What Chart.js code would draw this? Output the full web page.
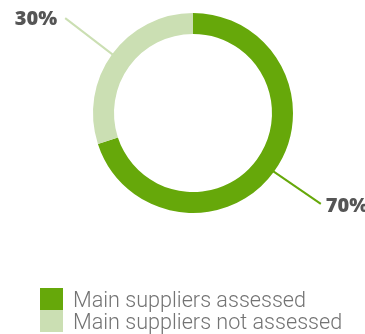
<!DOCTYPE html>
<html>
<head>
<meta charset="utf-8">
<script src="https://cdn.jsdelivr.net/npm/chart.js@4/dist/chart.umd.min.js"></script>
<style>
  body { margin: 0; background: #fff; }
  #wrap { position: relative; width: 365px; height: 334px; }
  #legend { position: absolute; left: 40px; top: 288px; font-family: Roboto, sans-serif; font-weight: 300; font-size: 21.6px; color: #737373; }
  .row { display: flex; align-items: center; height: 22px; }
  .box { width: 23px; height: 22px; margin-right: 10px; flex: none; }
  .row span { white-space: nowrap; }
</style>
</head>
<body>
<div id="wrap">
  <canvas id="chart" width="365" height="334"></canvas>
  <div id="legend"></div>
</div>
<script>
const categories = ["Main suppliers assessed", "Main suppliers not assessed"];
const values = [70, 30];
const valueLabels = ["70%", "30%"];
const colors = ["#66a80a", "#cbdfb3"];

// leader lines and percentage labels
const leaderLabels = {
  id: "leaderLabels",
  afterDraw(chart) {
    const ctx = chart.ctx;
    const arcs = chart.getDatasetMeta(0).data;
    arcs.forEach((arc, i) => {
      const p = arc.getProps(["x", "y", "startAngle", "endAngle", "outerRadius"], true);
      const mid = (p.startAngle + p.endAngle) / 2;
      const c = Math.cos(mid), s = Math.sin(mid);
      const r0 = p.outerRadius - 2, r1 = p.outerRadius + 58;
      const ex = p.x + c * r1, ey = p.y + s * r1;
      ctx.save();
      ctx.strokeStyle = colors[i];
      ctx.lineWidth = 2;
      ctx.beginPath();
      ctx.moveTo(p.x + c * r0, p.y + s * r0);
      ctx.lineTo(ex, ey - 2);
      ctx.stroke();
      ctx.fillStyle = "#555555";
      ctx.font = "800 20px 'Open Sans'";
      ctx.textBaseline = "middle";
      if (c < 0) {
        ctx.textAlign = "right";
        ctx.fillText(valueLabels[i], ex - 8, ey - 1);
      } else {
        ctx.textAlign = "left";
        ctx.fillText(valueLabels[i], ex + 5, ey);
      }
      ctx.restore();
    });
  }
};

new Chart(document.getElementById("chart"), {
  type: "doughnut",
  data: {
    labels: categories,
    datasets: [{
      data: values,
      backgroundColor: colors,
      borderWidth: 0
    }]
  },
  options: {
    responsive: false,
    animation: false,
    cutout: "79%",
    layout: { padding: { left: 93, right: 72, top: 13, bottom: 121 } },
    plugins: { legend: { display: false }, tooltip: { enabled: false } }
  },
  plugins: [leaderLabels]
});

const legend = document.getElementById("legend");
categories.forEach((name, i) => {
  const row = document.createElement("div");
  row.className = "row";
  row.innerHTML = '<div class="box" style="background:' + colors[i] + '"></div><span>' + name + '</span>';
  legend.appendChild(row);
});
</script>
</body>
</html>
